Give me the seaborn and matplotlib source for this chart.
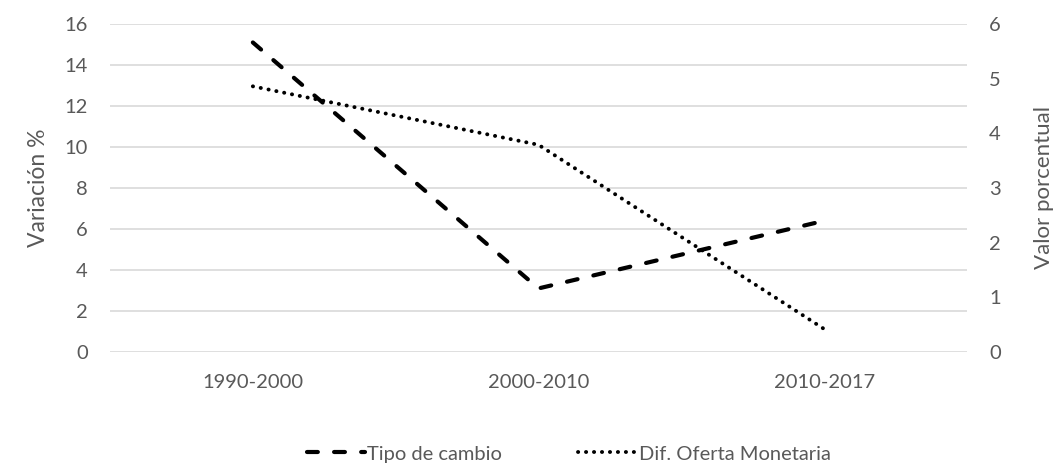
import matplotlib
matplotlib.use("Agg")
import matplotlib.pyplot as plt
import seaborn as sns
import pandas as pd
from matplotlib.lines import Line2D

# data
periodos = ["1990-2000", "2000-2010", "2010-2017"]
tipo_cambio = [15.1, 3.1, 6.4]          # left axis (Variación %)
oferta_monetaria = [4.86, 3.79, 0.42]   # right axis (Valor porcentual)

sns.set_theme(style="white")
plt.rcParams['font.family'] = ['Lato', 'DejaVu Sans']
gris = "#595959"
fam = ['Lato', 'DejaVu Sans']

df = pd.DataFrame({"x": range(len(periodos)),
                   "tipo": tipo_cambio,
                   "oferta": oferta_monetaria})

fig = plt.figure(figsize=(10.63, 4.68), dpi=100)
ax = fig.add_axes([0.1035, 0.2479, 0.8062, 0.7008])
ax2 = ax.twinx()

dash_style = (0, (2.6, 3.9))
dot_style = (0, (0.05, 2.0))

sns.lineplot(data=df, x="x", y="tipo", ax=ax, color="black", lw=3.0,
             linestyle=dash_style, legend=False)
sns.lineplot(data=df, x="x", y="oferta", ax=ax2, color="black", lw=2.8,
             linestyle=dot_style, legend=False)
for l in ax.lines + ax2.lines:
    l.set_dash_capstyle("round")

ax.set_xlim(-0.5, len(periodos) - 0.5)
ax.set_ylim(0, 16)
ax2.set_ylim(0, 6)
ax.set_yticks(range(0, 17, 2))
ax2.set_yticks(range(0, 7))
ax.set_xticks(range(len(periodos)))
ax.set_xticklabels(periodos)

ax.grid(axis="y", color="#d9d9d9", lw=1.2)
ax.grid(axis="x", visible=False)
ax2.grid(False)
ax.set_axisbelow(True)
for a in (ax, ax2):
    for s in a.spines.values():
        s.set_visible(False)
    a.tick_params(length=0, labelsize=14.5, colors=gris, pad=16)
    for t in a.get_xticklabels() + a.get_yticklabels():
        t.set_family(fam)

ax.set_xlabel("")
ax.set_ylabel("Variación %", fontsize=16.5, color=gris, labelpad=11, family=fam)
ax2.set_ylabel("Valor porcentual", fontsize=16, color=gris, labelpad=24, family=fam)

handles = [Line2D([], [], color="black", lw=3.0, linestyle=dash_style, dash_capstyle="round"),
           Line2D([], [], color="black", lw=2.8, linestyle=dot_style, dash_capstyle="round")]
leg = fig.legend(handles, ["Tipo de cambio", "Dif. Oferta Monetaria"], loc="center",
                 bbox_to_anchor=(0.535, 0.03), ncol=2, frameon=False,
                 prop={"family": fam, "size": 14.5},
                 handlelength=2.9, handletextpad=0.1, columnspacing=3.8)
for t in leg.get_texts():
    t.set_color(gris)

fig.savefig("out.png", dpi=100)
